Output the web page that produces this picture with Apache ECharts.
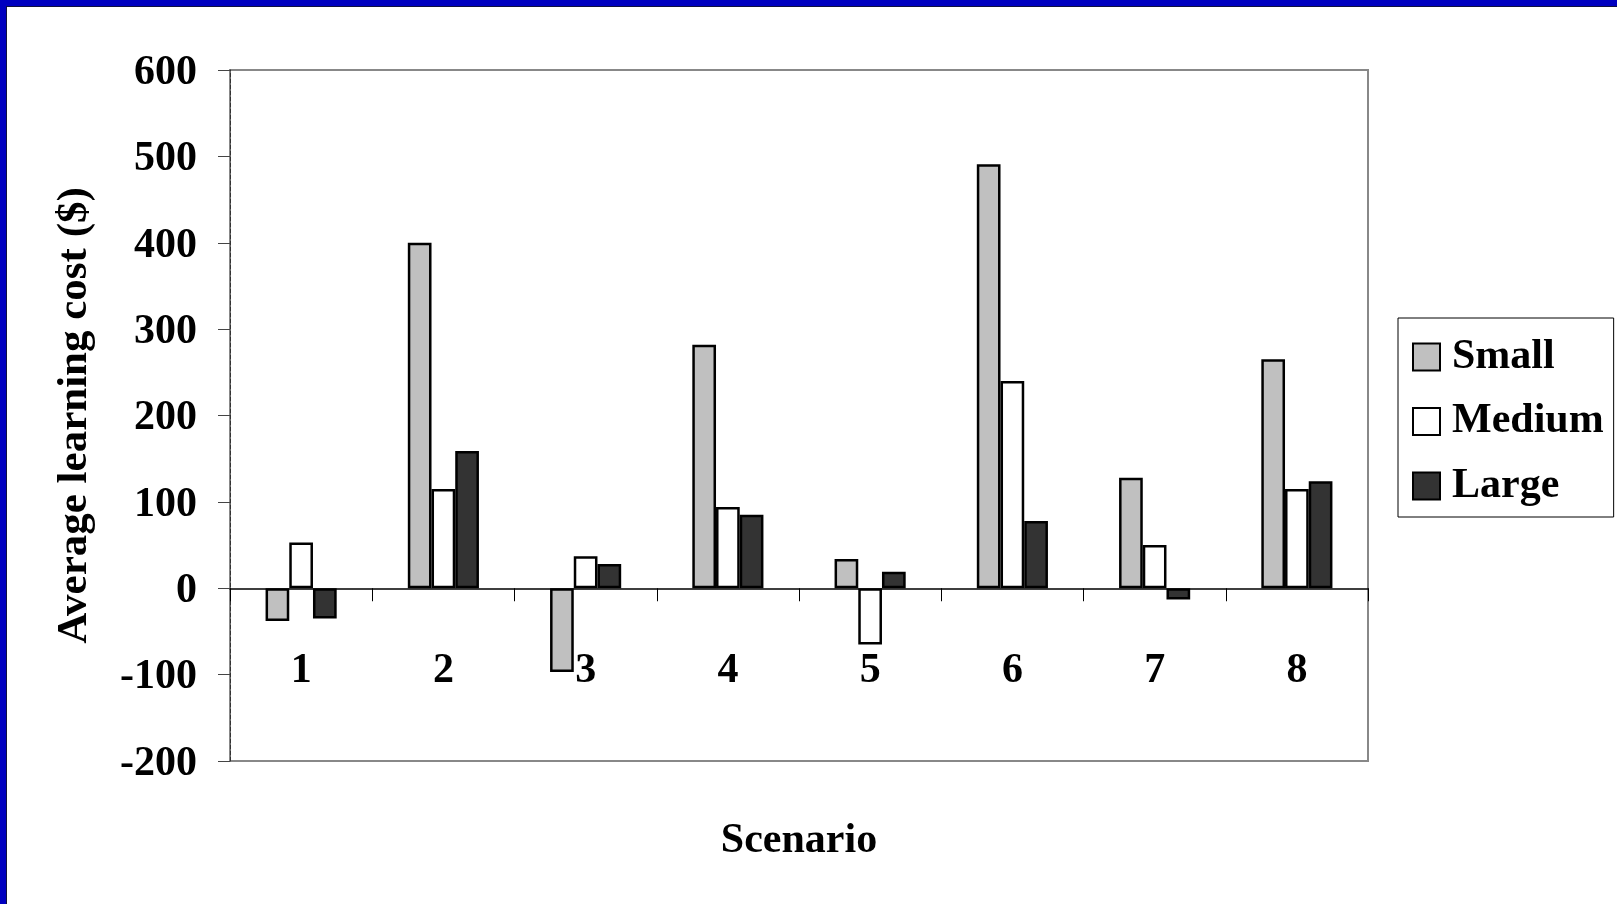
<!DOCTYPE html>
<html>
<head>
<meta charset="utf-8">
<script src="https://cdn.jsdelivr.net/npm/echarts@6/dist/echarts.min.js"></script>
<style>
html,body{margin:0;padding:0;background:#fff;}
#chart{width:1617px;height:904px;}
</style>
</head>
<body>
<div id="chart"></div>
<script>
const categories = ['1','2','3','4','5','6','7','8'];
const smallVals  = [-38, 400, -97, 282, 34, 491, 128, 265];
const mediumVals = [53, 115, 37, 94, -65, 240, 50, 115];
const largeVals  = [-35, 159, 28, 85, 19, 78, -13, 124];
const seriesNames = ['Small','Medium','Large'];
const yTicks = {min:-200, max:600, interval:100};

const FONT = '"Liberation Serif","Times New Roman",serif';
const chart = echarts.init(document.getElementById('chart'), null, {renderer:'canvas'});

const gridTop = 70, gridBottom = 143, H = 904;
const gridH = H - gridTop - gridBottom;
// distance of the zero line above the grid bottom, from the axis range
const zeroOffset = gridH * (0 - yTicks.min) / (yTicks.max - yTicks.min);

function bar(name, data, color){
  return {
    name, type:'bar', data,
    barGap:'0%', barCategoryGap:'50%',
    itemStyle:{color, borderColor:'#000', borderWidth:2.5},
    emphasis:{disabled:true}
  };
}

chart.setOption({
  backgroundColor:'#fff',
  animation:false,
  graphic:[
    {type:'rect', shape:{x:0,y:0,width:1617,height:6}, style:{fill:'#0000C0'}, z:100},
    {type:'rect', shape:{x:0,y:0,width:6,height:904}, style:{fill:'#0000C0'}, z:100},
    {type:'rect', shape:{x:6,y:6,width:1611,height:1}, style:{fill:'#101040'}, z:100},
    {type:'rect', shape:{x:6,y:6,width:1,height:898}, style:{fill:'#101040'}, z:100},
    {type:'text', x:799, y:841, style:{text:'Scenario', fill:'#000', font:'bold 42px '+FONT, align:'center', verticalAlign:'middle'}}
  ],
  grid:{left:230, top:gridTop, right:249, bottom:gridBottom, show:true, borderColor:'#888', borderWidth:2, backgroundColor:'transparent'},
  legend:{
    orient:'vertical', left:1398, top:318,
    padding:[18,10,10,14],
    itemGap:22.5,
    itemWidth:27, itemHeight:27,
    borderColor:'#000', borderWidth:1, backgroundColor:'#fff',
    icon:'rect',
    textStyle:{fontFamily:FONT, fontWeight:'bold', fontSize:42, color:'#000', lineHeight:40, padding:[0,0,0,7]},
    data:seriesNames
  },
  xAxis:{
    type:'category', data:categories,
    offset:-zeroOffset,
    axisLine:{onZero:false, lineStyle:{color:'#000', width:1.5}},
    axisTick:{show:true, length:13, lineStyle:{color:'#000', width:1}},
    axisLabel:{margin:62, fontFamily:FONT, fontWeight:'bold', fontSize:42, color:'#000'},
    splitLine:{show:false}
  },
  yAxis:{
    type:'value', min:yTicks.min, max:yTicks.max, interval:yTicks.interval,
    name:'Average learning cost ($)', nameLocation:'middle', nameGap:134,
    nameTextStyle:{fontFamily:FONT, fontWeight:'bold', fontSize:43, color:'#000'},
    axisLine:{show:true, lineStyle:{color:'#333', width:1, type:'dashed'}},
    axisTick:{show:true, length:12, lineStyle:{color:'#444', width:1}},
    axisLabel:{margin:33, verticalAlign:'top', lineHeight:6, fontFamily:FONT, fontWeight:'bold', fontSize:42, color:'#000'},
    splitLine:{show:false}
  },
  series:[
    bar(seriesNames[0], smallVals, '#C0C0C0'),
    bar(seriesNames[1], mediumVals, '#FFFFFF'),
    bar(seriesNames[2], largeVals, '#333333')
  ]
});
</script>
</body>
</html>
